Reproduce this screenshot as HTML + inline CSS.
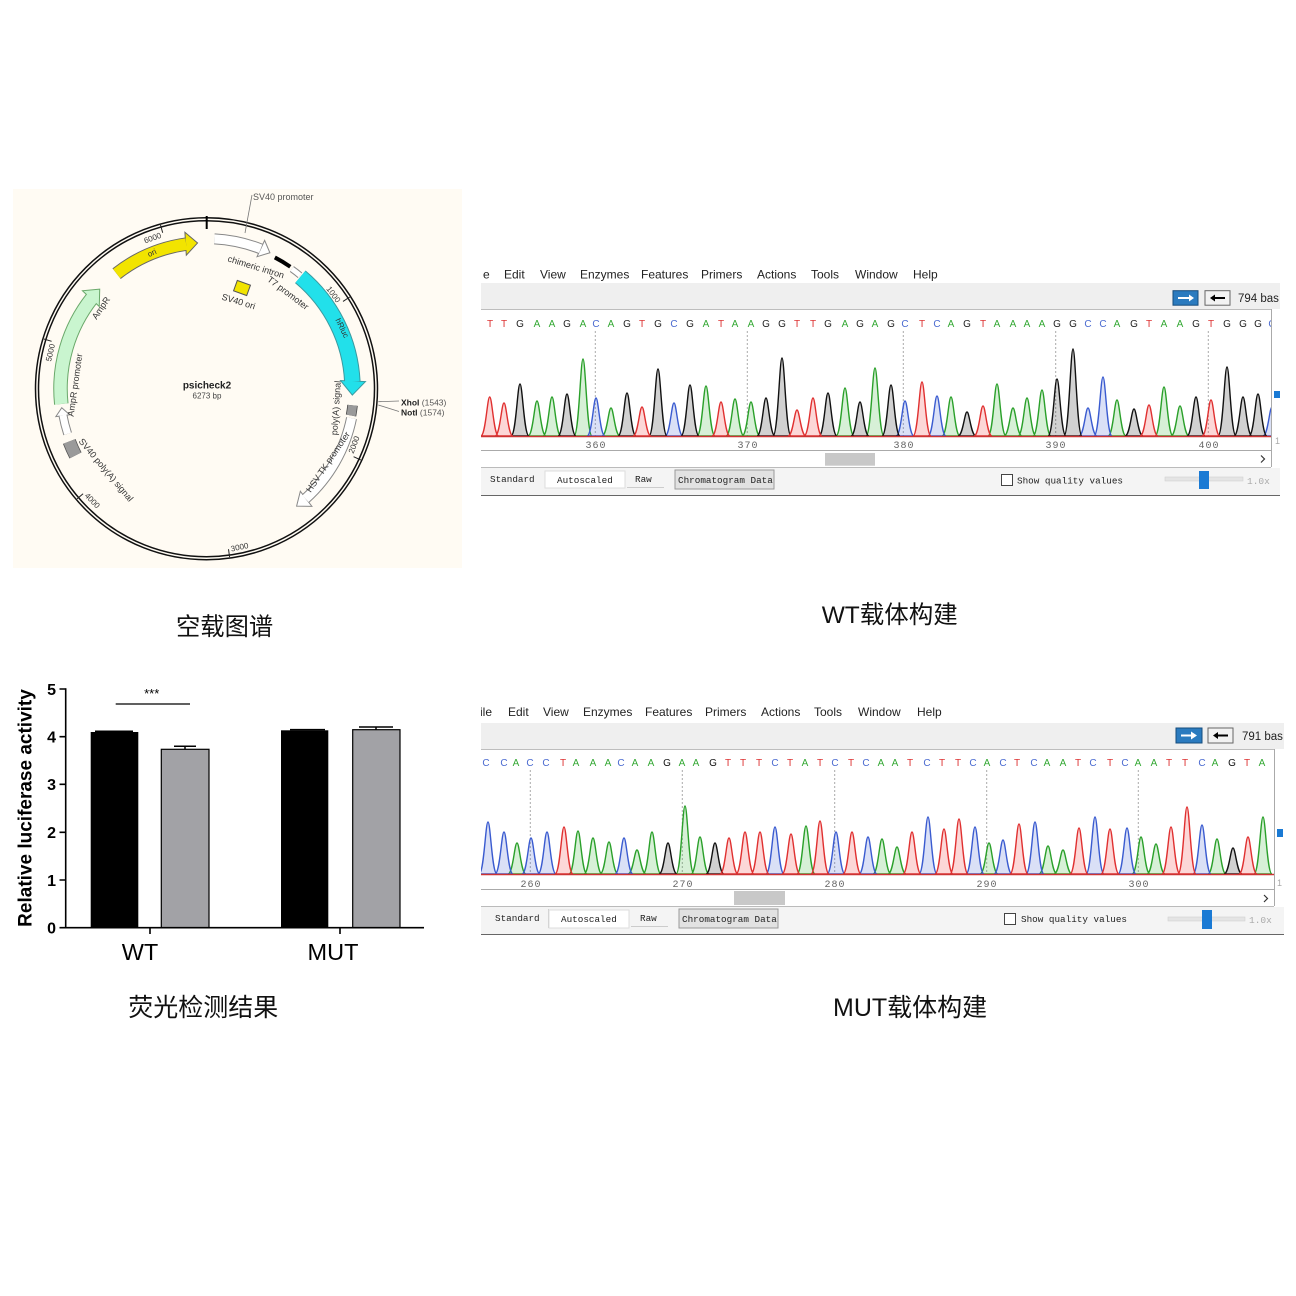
<!DOCTYPE html>
<html><head><meta charset="utf-8"><style>
html,body{margin:0;padding:0;background:#fff;}
svg{display:block;}
text{font-family:"Liberation Sans","Noto Sans CJK SC",sans-serif;}
.m text, text.m{font-family:"Liberation Mono",monospace;}
</style></head><body>
<svg width="1296" height="1296" viewBox="0 0 1296 1296" xmlns="http://www.w3.org/2000/svg">
<defs>
<clipPath id="cw"><rect x="481" y="309" width="790" height="132"/></clipPath>
<clipPath id="cm"><rect x="481" y="749" width="793" height="131"/></clipPath>
<clipPath id="rw"><rect x="481" y="260" width="799" height="240"/></clipPath>
<clipPath id="rm"><rect x="481" y="700" width="803" height="240"/></clipPath>
</defs>
<rect width="1296" height="1296" fill="#fff"/>

<!-- ================= PLASMID MAP ================= -->
<rect x="13" y="189" width="449" height="379" fill="#fffbf3"/>
<g fill="none">
<circle cx="206.5" cy="388.7" r="171" stroke="#111" stroke-width="1.5"/>
<circle cx="206.5" cy="388.7" r="168" stroke="#111" stroke-width="1.5"/>
</g>
<line x1="206.7" y1="216" x2="206.7" y2="229" stroke="#000" stroke-width="2"/>
<path d="M343,301.4L349.7,297.1M353.6,456.7L360.8,460M228.5,549.2L229.6,557.1M83.1,493.7L77,498.9M51.6,341.3L43.9,339M162.7,232.7L160.5,225" stroke="#222" stroke-width="1" fill="none"/>
<g font-size="8" fill="#333" text-anchor="middle" dominant-baseline="central">
<text transform="translate(333.3,294.5) rotate(53.4)">1000</text>
<text transform="translate(354.2,444.8) rotate(-69.2)">2000</text>
<text transform="translate(239.6,547.3) rotate(-11.8)">3000</text>
<text transform="translate(92.2,500.7) rotate(45.6)">4000</text>
<text transform="translate(50.6,352.7) rotate(-77)">5000</text>
<text transform="translate(152.6,238.1) rotate(-19.7)">6000</text>
</g>

<!-- ori -->
<circle cx="206.5" cy="388.7" r="146" fill="none" stroke="#666" stroke-width="13.5" stroke-dasharray="76.4 2000" transform="rotate(-128 206.5 388.7)"/>
<polygon points="206.5,242.7 194.5,231.2 194.5,254.2" fill="#f2e400" stroke="#666" stroke-width="1" transform="rotate(-3.5 206.5 388.7)"/>
<circle cx="206.5" cy="388.7" r="146" fill="none" stroke="#f2e400" stroke-width="11.5" stroke-dasharray="76.4 2000" transform="rotate(-128 206.5 388.7)"/>
<!-- SV40 promoter -->
<circle cx="206.5" cy="388.7" r="150" fill="none" stroke="#888" stroke-width="11" stroke-dasharray="47.6 2000" transform="rotate(-87 206.5 388.7)"/>
<polygon points="206.5,238.7 196.5,229.7 196.5,247.7" fill="#fff" stroke="#888" stroke-width="1" transform="rotate(25 206.5 388.7)"/>
<circle cx="206.5" cy="388.7" r="150" fill="none" stroke="#fff" stroke-width="9" stroke-dasharray="47.6 2000" transform="rotate(-87 206.5 388.7)"/>
<!-- chimeric intron -->
<circle cx="206.5" cy="388.7" r="148" fill="none" stroke="#000" stroke-width="4" stroke-dasharray="18.1 2000" transform="rotate(-62.5 206.5 388.7)"/>
<!-- T7 -->
<circle cx="206.5" cy="388.7" r="147" fill="none" stroke="#888" stroke-width="7" stroke-dasharray="10.3 2000" transform="rotate(-54.5 206.5 388.7)"/>
<circle cx="206.5" cy="388.7" r="147" fill="none" stroke="#fff" stroke-width="5" stroke-dasharray="10.3 2000" transform="rotate(-54.5 206.5 388.7)"/>
<!-- hRluc -->
<circle cx="206.5" cy="388.7" r="146" fill="none" stroke="#3a9aa0" stroke-width="16.5" stroke-dasharray="120.3 2000" transform="rotate(-50 206.5 388.7)"/>
<polygon points="206.5,242.7 192.5,230.2 192.5,255.2" fill="#22e0ea" stroke="#3a9aa0" stroke-width="1" transform="rotate(92.5 206.5 388.7)"/>
<circle cx="206.5" cy="388.7" r="146" fill="none" stroke="#22e0ea" stroke-width="14.5" stroke-dasharray="120.3 2000" transform="rotate(-50 206.5 388.7)"/>
<!-- polyA box -->
<circle cx="206.5" cy="388.7" r="147" fill="none" stroke="#444" stroke-width="10.5" stroke-dasharray="10.3 2000" transform="rotate(6.5 206.5 388.7)"/>
<circle cx="206.5" cy="388.7" r="147" fill="none" stroke="#9a9a9a" stroke-width="9" stroke-dasharray="10.3 2000" transform="rotate(6.5 206.5 388.7)"/>
<!-- HSV TK -->
<circle cx="206.5" cy="388.7" r="148" fill="none" stroke="#888" stroke-width="11" stroke-dasharray="94.3 2000" transform="rotate(11.5 206.5 388.7)"/>
<polygon points="206.5,240.7 194.5,231.2 194.5,250.2" fill="#fff" stroke="#888" stroke-width="1" transform="rotate(142.5 206.5 388.7)"/>
<circle cx="206.5" cy="388.7" r="148" fill="none" stroke="#fff" stroke-width="9" stroke-dasharray="94.3 2000" transform="rotate(11.5 206.5 388.7)"/>
<!-- AmpR -->
<circle cx="206.5" cy="388.7" r="146" fill="none" stroke="#6aa86a" stroke-width="14.5" stroke-dasharray="113.1 2000" transform="rotate(-186 206.5 388.7)"/>
<polygon points="206.5,242.7 193.5,231.2 193.5,254.2" fill="#c9f5cf" stroke="#6aa86a" stroke-width="1" transform="rotate(-47 206.5 388.7)"/>
<circle cx="206.5" cy="388.7" r="146" fill="none" stroke="#c9f5cf" stroke-width="12.5" stroke-dasharray="113.1 2000" transform="rotate(-186 206.5 388.7)"/>
<!-- AmpR promoter -->
<circle cx="206.5" cy="388.7" r="146" fill="none" stroke="#888" stroke-width="9" stroke-dasharray="19.4 2000" transform="rotate(-198 206.5 388.7)"/>
<polygon points="206.5,242.7 198.5,235.7 198.5,249.7" fill="#fff" stroke="#888" stroke-width="1" transform="rotate(-97.5 206.5 388.7)"/>
<circle cx="206.5" cy="388.7" r="146" fill="none" stroke="#fff" stroke-width="7" stroke-dasharray="19.4 2000" transform="rotate(-198 206.5 388.7)"/>
<!-- SV40 polyA box -->
<circle cx="206.5" cy="388.7" r="147" fill="none" stroke="#555" stroke-width="13.5" stroke-dasharray="15.4 2000" transform="rotate(-207 206.5 388.7)"/>
<circle cx="206.5" cy="388.7" r="147" fill="none" stroke="#9a9a9a" stroke-width="12" stroke-dasharray="15.4 2000" transform="rotate(-207 206.5 388.7)"/>
<!-- SV40 ori box -->
<rect x="235" y="282.5" width="14" height="11" fill="#f2e400" stroke="#555" stroke-width="1" transform="rotate(20 242 288)"/>
<!-- label lines -->
<path d="M245,233L252,195M378.3,401.7L399,401M378.3,405L399,411.5" stroke="#777" stroke-width="0.8" fill="none"/>
<g font-size="9" fill="#333" text-anchor="middle" dominant-baseline="central">
<text transform="translate(152,253) rotate(-24)" font-size="8">ori</text>
<text transform="translate(256,267) rotate(17)">chimeric intron</text>
<text transform="translate(288,293) rotate(37)">T7 promoter</text>
<text transform="translate(238.5,301.5) rotate(17)">SV40 ori</text>
<text transform="translate(101,308) rotate(-56)">AmpR</text>
<text transform="translate(342,328) rotate(64)" font-size="8">hRluc</text>
<text transform="translate(75,385) rotate(-82)">AmpR promoter</text>
<text transform="translate(336,408) rotate(-86)">poly(A) signal</text>
<text transform="translate(328,462) rotate(-56)">HSV TK promoter</text>
<text transform="translate(106,470) rotate(50)">SV40 poly(A) signal</text>
<text x="207" y="386" font-size="10" font-weight="bold" fill="#222">psicheck2</text>
<text x="207" y="396" font-size="8" fill="#444">6273 bp</text>
</g>
<text x="253" y="197" font-size="9" fill="#555" dominant-baseline="central">SV40 promoter</text>
<text x="401" y="402.3" font-size="8.5" fill="#222" dominant-baseline="central"><tspan font-weight="bold">XhoI</tspan> <tspan fill="#555">(1543)</tspan></text>
<text x="401" y="412.3" font-size="8.5" fill="#222" dominant-baseline="central"><tspan font-weight="bold">NotI</tspan> <tspan fill="#555">(1574)</tspan></text>

<text x="176" y="635" font-size="24.3" fill="#111">空载图谱</text>

<!-- ================= WT PANEL ================= -->
<g clip-path="url(#rw)">
<rect x="481" y="262" width="799" height="21" fill="#fff"/>
<g font-size="12" fill="#222">
<text x="483" y="278.5">e</text><text x="504" y="278.5">Edit</text><text x="540" y="278.5">View</text><text x="580" y="278.5">Enzymes</text><text x="641" y="278.5">Features</text><text x="701" y="278.5">Primers</text><text x="757" y="278.5">Actions</text><text x="811" y="278.5">Tools</text><text x="855" y="278.5">Window</text><text x="913" y="278.5">Help</text>
</g>
<rect x="481" y="283" width="799" height="26" fill="#efefef"/>
<line x1="481" y1="309.5" x2="1271" y2="309.5" stroke="#bdbdbd"/>
<rect x="1173" y="290.7" width="25" height="14.5" fill="#2b7bbf" stroke="#164d7e"/>
<path d="M1178,298H1190" stroke="#fff" stroke-width="2"/><polygon points="1194,298 1189,294.5 1189,301.5" fill="#fff"/>
<rect x="1205" y="290.7" width="25" height="14.5" fill="#f2f2f2" stroke="#666"/>
<path d="M1214,298H1225" stroke="#000" stroke-width="2"/><polygon points="1210,298 1215,294.5 1215,301.5" fill="#000"/>
<text x="1238" y="302" font-size="11.5" fill="#222">794 bas</text>
<!-- sequence -->
<g font-size="10" text-anchor="middle">
<g fill="#dd3333"><text x="490" y="327">T</text><text x="504" y="327">T</text><text x="642" y="327">T</text><text x="721" y="327">T</text><text x="797" y="327">T</text><text x="813" y="327">T</text><text x="922" y="327">T</text><text x="983" y="327">T</text><text x="1149" y="327">T</text><text x="1211" y="327">T</text></g>
<g fill="#33a833"><text x="537" y="327">A</text><text x="552" y="327">A</text><text x="583" y="327">A</text><text x="611" y="327">A</text><text x="706" y="327">A</text><text x="735" y="327">A</text><text x="751" y="327">A</text><text x="845" y="327">A</text><text x="875" y="327">A</text><text x="951" y="327">A</text><text x="997" y="327">A</text><text x="1013" y="327">A</text><text x="1027" y="327">A</text><text x="1042" y="327">A</text><text x="1117" y="327">A</text><text x="1164" y="327">A</text><text x="1180" y="327">A</text></g>
<g fill="#4a6ad0"><text x="596" y="327">C</text><text x="674" y="327">C</text><text x="905" y="327">C</text><text x="937" y="327">C</text><text x="1088" y="327">C</text><text x="1103" y="327">C</text><text x="1272" y="327">C</text></g>
<g fill="#222"><text x="520" y="327">G</text><text x="567" y="327">G</text><text x="627" y="327">G</text><text x="658" y="327">G</text><text x="690" y="327">G</text><text x="766" y="327">G</text><text x="782" y="327">G</text><text x="828" y="327">G</text><text x="860" y="327">G</text><text x="891" y="327">G</text><text x="967" y="327">G</text><text x="1057" y="327">G</text><text x="1073" y="327">G</text><text x="1134" y="327">G</text><text x="1196" y="327">G</text><text x="1227" y="327">G</text><text x="1243" y="327">G</text><text x="1258" y="327">G</text></g>
</g>
<rect x="1271" y="309" width="9" height="158" fill="#fff"/>
<path d="M595.3,331V436M747.3,331V436M903.3,331V436M1055.7,331V436M1208.3,331V436" stroke="#aaa" stroke-dasharray="2 2"/>
<g clip-path="url(#cw)" stroke-width="1.4" fill-opacity="0.18">
<path fill="#22aa22" stroke="#2aa02a" d="M528,436c5,0 6.5,-35 9,-35s4,35 9,35zM543,436c5,0 6.5,-39 9,-39s4,39 9,39zM574,436c5,0 6.5,-77 9,-77s4,77 9,77zM602,436c5,0 6.5,-28 9,-28s4,28 9,28zM697,436c5,0 6.5,-50 9,-50s4,50 9,50zM726,436c5,0 6.5,-37 9,-37s4,37 9,37zM742,436c5,0 6.5,-34 9,-34s4,34 9,34zM836,436c5,0 6.5,-48 9,-48s4,48 9,48zM866,436c5,0 6.5,-68 9,-68s4,68 9,68zM942,436c5,0 6.5,-39 9,-39s4,39 9,39zM988,436c5,0 6.5,-52 9,-52s4,52 9,52zM1004,436c5,0 6.5,-28 9,-28s4,28 9,28zM1018,436c5,0 6.5,-38 9,-38s4,38 9,38zM1033,436c5,0 6.5,-46 9,-46s4,46 9,46zM1108,436c5,0 6.5,-36 9,-36s4,36 9,36zM1155,436c5,0 6.5,-49 9,-49s4,49 9,49zM1171,436c5,0 6.5,-30 9,-30s4,30 9,30z"/>
<path fill="#3355cc" stroke="#3a5bd0" d="M587,436c5,0 6.5,-38 9,-38s4,38 9,38zM665,436c5,0 6.5,-33 9,-33s4,33 9,33zM896,436c5,0 6.5,-35 9,-35s4,35 9,35zM928,436c5,0 6.5,-40 9,-40s4,40 9,40zM1079,436c5,0 6.5,-28 9,-28s4,28 9,28zM1094,436c5,0 6.5,-59 9,-59s4,59 9,59zM1263,436c5,0 6.5,-29 9,-29s4,29 9,29z"/>
<path fill="#000" stroke="#111" d="M511,436c5,0 6.5,-52 9,-52s4,52 9,52zM558,436c5,0 6.5,-42 9,-42s4,42 9,42zM618,436c5,0 6.5,-43 9,-43s4,43 9,43zM649,436c5,0 6.5,-67 9,-67s4,67 9,67zM681,436c5,0 6.5,-51 9,-51s4,51 9,51zM757,436c5,0 6.5,-38 9,-38s4,38 9,38zM773,436c5,0 6.5,-78 9,-78s4,78 9,78zM819,436c5,0 6.5,-43 9,-43s4,43 9,43zM851,436c5,0 6.5,-34 9,-34s4,34 9,34zM882,436c5,0 6.5,-51 9,-51s4,51 9,51zM958,436c5,0 6.5,-24 9,-24s4,24 9,24zM1048,436c5,0 6.5,-57 9,-57s4,57 9,57zM1064,436c5,0 6.5,-87 9,-87s4,87 9,87zM1125,436c5,0 6.5,-27 9,-27s4,27 9,27zM1187,436c5,0 6.5,-39 9,-39s4,39 9,39zM1218,436c5,0 6.5,-69 9,-69s4,69 9,69zM1234,436c5,0 6.5,-39 9,-39s4,39 9,39zM1249,436c5,0 6.5,-42 9,-42s4,42 9,42z"/>
<path fill="#ee2222" stroke="#e03030" d="M480.7,436c5,0 6.5,-39 9,-39s4,39 9,39zM495,436c5,0 6.5,-33 9,-33s4,33 9,33zM633,436c5,0 6.5,-29 9,-29s4,29 9,29zM712,436c5,0 6.5,-34 9,-34s4,34 9,34zM788,436c5,0 6.5,-26 9,-26s4,26 9,26zM804,436c5,0 6.5,-38 9,-38s4,38 9,38zM913,436c5,0 6.5,-54 9,-54s4,54 9,54zM974,436c5,0 6.5,-30 9,-30s4,30 9,30zM1140,436c5,0 6.5,-31 9,-31s4,31 9,31zM1202,436c5,0 6.5,-36 9,-36s4,36 9,36z"/>
<line x1="481" y1="436.5" x2="1271" y2="436.5" stroke="#c33" stroke-width="1.5"/>
</g>
<g class="m" font-size="10" fill="#666" text-anchor="middle" letter-spacing="1">
<text x="596" y="448">360</text><text x="748" y="448">370</text><text x="904" y="448">380</text><text x="1056" y="448">390</text><text x="1209" y="448">400</text>
</g>
<line x1="481" y1="450.5" x2="1271" y2="450.5" stroke="#aaa"/>
<rect x="825" y="453" width="50" height="12.7" fill="#c8c8c8"/>
<path d="M1261,455.5l3.5,3.5l-3.5,3.5" stroke="#333" stroke-width="1.2" fill="none"/>
<line x1="481" y1="467.5" x2="1271" y2="467.5" stroke="#bbb"/>
<line x1="1271.5" y1="309" x2="1271.5" y2="467" stroke="#aaa"/>
<rect x="1274" y="391" width="6" height="7" fill="#1a7ad4"/>
<text x="1275" y="444" font-size="9" fill="#aaa">1</text>
<rect x="481" y="468" width="799" height="27" fill="#f4f4f4"/>
<rect x="545" y="471" width="80" height="17" fill="#fff" stroke="#ddd"/>
<rect x="675" y="470" width="99" height="19" fill="#e2e2e2" stroke="#9a9a9a"/>
<line x1="627" y1="487.5" x2="664" y2="487.5" stroke="#ccc"/>
<g class="m" font-size="9.3" fill="#222">
<text x="490" y="482">Standard</text><text x="557" y="483">Autoscaled</text><text x="635" y="482">Raw</text><text x="678" y="483">Chromatogram Data</text>
<text x="1017" y="483.5">Show quality values</text>
</g>
<rect x="1001.5" y="474.5" width="11" height="11" fill="#fff" stroke="#444"/>
<rect x="1165" y="477" width="78" height="4" fill="#e4e4e4" stroke="#d0d0d0" stroke-width="0.6"/>
<rect x="1199" y="471" width="10" height="18" fill="#1a7ad4"/>
<text x="1247" y="484" class="m" font-size="9.5" fill="#aaa">1.0x</text>
<line x1="481" y1="495.5" x2="1280" y2="495.5" stroke="#666"/>
</g>
<text x="821.7" y="623" font-size="24.5" fill="#111">WT载体构建</text>

<!-- ================= MUT PANEL ================= -->
<g clip-path="url(#rm)">
<rect x="481" y="701" width="803" height="22" fill="#fff"/>
<g font-size="12" fill="#222">
<text x="480" y="716">ile</text><text x="508" y="716">Edit</text><text x="543" y="716">View</text><text x="583" y="716">Enzymes</text><text x="645" y="716">Features</text><text x="705" y="716">Primers</text><text x="761" y="716">Actions</text><text x="814" y="716">Tools</text><text x="858" y="716">Window</text><text x="917" y="716">Help</text>
</g>
<rect x="481" y="723" width="803" height="26" fill="#efefef"/>
<line x1="481" y1="749.5" x2="1274" y2="749.5" stroke="#bdbdbd"/>
<rect x="1176" y="728" width="26" height="15" fill="#2b7bbf" stroke="#164d7e"/>
<path d="M1181,735.5H1192" stroke="#fff" stroke-width="2"/><polygon points="1197,735.5 1191,731.5 1191,739.5" fill="#fff"/>
<rect x="1208" y="728" width="25" height="15" fill="#f2f2f2" stroke="#666"/>
<path d="M1217,735.5H1228" stroke="#000" stroke-width="2"/><polygon points="1213,735.5 1218,732 1218,739" fill="#000"/>
<text x="1242" y="740" font-size="11.5" fill="#222">791 bas</text>
<g font-size="10" text-anchor="middle">
<g fill="#4a6ad0"><text x="486" y="766">C</text><text x="504" y="766">C</text><text x="530" y="766">C</text><text x="546" y="766">C</text><text x="621" y="766">C</text><text x="775" y="766">C</text><text x="835" y="766">C</text><text x="866" y="766">C</text><text x="927" y="766">C</text><text x="973" y="766">C</text><text x="1003" y="766">C</text><text x="1034" y="766">C</text><text x="1093" y="766">C</text><text x="1125" y="766">C</text><text x="1202" y="766">C</text></g>
<g fill="#33a833"><text x="516" y="766">A</text><text x="576" y="766">A</text><text x="593" y="766">A</text><text x="608" y="766">A</text><text x="635" y="766">A</text><text x="651" y="766">A</text><text x="682" y="766">A</text><text x="696" y="766">A</text><text x="805" y="766">A</text><text x="881" y="766">A</text><text x="895" y="766">A</text><text x="987" y="766">A</text><text x="1047" y="766">A</text><text x="1063" y="766">A</text><text x="1138" y="766">A</text><text x="1154" y="766">A</text><text x="1215" y="766">A</text><text x="1262" y="766">A</text></g>
<g fill="#dd3333"><text x="563" y="766">T</text><text x="728" y="766">T</text><text x="743" y="766">T</text><text x="759" y="766">T</text><text x="790" y="766">T</text><text x="820" y="766">T</text><text x="851" y="766">T</text><text x="910" y="766">T</text><text x="942" y="766">T</text><text x="958" y="766">T</text><text x="1017" y="766">T</text><text x="1078" y="766">T</text><text x="1110" y="766">T</text><text x="1169" y="766">T</text><text x="1185" y="766">T</text><text x="1247" y="766">T</text></g>
<g fill="#111"><text x="667" y="766">G</text><text x="713" y="766">G</text><text x="1232" y="766">G</text></g>
</g>
<rect x="1274" y="749" width="10" height="157" fill="#fff"/>
<path d="M530.3,770V874M682.3,770V874M834.7,770V874M986.7,770V874M1138.3,770V874" stroke="#aaa" stroke-dasharray="2 2"/>
<g clip-path="url(#cm)" stroke-width="1.4" fill-opacity="0.18">
<path fill="#22aa22" stroke="#2aa02a" d="M508,874c5,0 6.5,-31 9,-31s4,31 9,31zM569,874c5,0 6.5,-43 9,-43s4,43 9,43zM584,874c5,0 6.5,-36 9,-36s4,36 9,36zM600,874c5,0 6.5,-32 9,-32s4,32 9,32zM628,874c5,0 6.5,-24 9,-24s4,24 9,24zM643,874c5,0 6.5,-42 9,-42s4,42 9,42zM676,874c5,0 6.5,-68 9,-68s4,68 9,68zM691,874c5,0 6.5,-37 9,-37s4,37 9,37zM797,874c5,0 6.5,-48 9,-48s4,48 9,48zM873,874c5,0 6.5,-35 9,-35s4,35 9,35zM888,874c5,0 6.5,-27 9,-27s4,27 9,27zM980,874c5,0 6.5,-31 9,-31s4,31 9,31zM1039,874c5,0 6.5,-28 9,-28s4,28 9,28zM1054,874c5,0 6.5,-24 9,-24s4,24 9,24zM1132,874c5,0 6.5,-37 9,-37s4,37 9,37zM1147,874c5,0 6.5,-30 9,-30s4,30 9,30zM1208,874c5,0 6.5,-35 9,-35s4,35 9,35zM1254,874c5,0 6.5,-57 9,-57s4,57 9,57z"/>
<path fill="#3355cc" stroke="#3a5bd0" d="M479,874c5,0 6.5,-52 9,-52s4,52 9,52zM495,874c5,0 6.5,-42 9,-42s4,42 9,42zM522,874c5,0 6.5,-36 9,-36s4,36 9,36zM538,874c5,0 6.5,-42 9,-42s4,42 9,42zM615,874c5,0 6.5,-36 9,-36s4,36 9,36zM766,874c5,0 6.5,-47 9,-47s4,47 9,47zM827,874c5,0 6.5,-42 9,-42s4,42 9,42zM859,874c5,0 6.5,-37 9,-37s4,37 9,37zM919,874c5,0 6.5,-57 9,-57s4,57 9,57zM966,874c5,0 6.5,-47 9,-47s4,47 9,47zM994,874c5,0 6.5,-34 9,-34s4,34 9,34zM1026,874c5,0 6.5,-52 9,-52s4,52 9,52zM1086,874c5,0 6.5,-57 9,-57s4,57 9,57zM1118,874c5,0 6.5,-46 9,-46s4,46 9,46zM1193,874c5,0 6.5,-49 9,-49s4,49 9,49z"/>
<path fill="#000" stroke="#111" d="M659,874c5,0 6.5,-31 9,-31s4,31 9,31zM706,874c5,0 6.5,-31 9,-31s4,31 9,31zM1224,874c5,0 6.5,-26 9,-26s4,26 9,26z"/>
<path fill="#ee2222" stroke="#e03030" d="M555,874c5,0 6.5,-47 9,-47s4,47 9,47zM720,874c5,0 6.5,-36 9,-36s4,36 9,36zM736,874c5,0 6.5,-42 9,-42s4,42 9,42zM751,874c5,0 6.5,-42 9,-42s4,42 9,42zM782,874c5,0 6.5,-40 9,-40s4,40 9,40zM811,874c5,0 6.5,-53 9,-53s4,53 9,53zM843,874c5,0 6.5,-42 9,-42s4,42 9,42zM903,874c5,0 6.5,-42 9,-42s4,42 9,42zM935,874c5,0 6.5,-45 9,-45s4,45 9,45zM950,874c5,0 6.5,-55 9,-55s4,55 9,55zM1010,874c5,0 6.5,-50 9,-50s4,50 9,50zM1070,874c5,0 6.5,-46 9,-46s4,46 9,46zM1101,874c5,0 6.5,-45 9,-45s4,45 9,45zM1162,874c5,0 6.5,-47 9,-47s4,47 9,47zM1178,874c5,0 6.5,-67 9,-67s4,67 9,67zM1239,874c5,0 6.5,-37 9,-37s4,37 9,37z"/>
<line x1="481" y1="874.5" x2="1274" y2="874.5" stroke="#c33" stroke-width="1.5"/>
</g>
<g class="m" font-size="10" fill="#666" text-anchor="middle" letter-spacing="1">
<text x="531" y="887">260</text><text x="683" y="887">270</text><text x="835" y="887">280</text><text x="987" y="887">290</text><text x="1139" y="887">300</text>
</g>
<line x1="481" y1="889.5" x2="1274" y2="889.5" stroke="#aaa"/>
<rect x="734" y="891" width="51" height="14" fill="#c8c8c8"/>
<path d="M1264,895l3.5,3.5l-3.5,3.5" stroke="#333" stroke-width="1.2" fill="none"/>
<line x1="481" y1="906.5" x2="1274" y2="906.5" stroke="#bbb"/>
<line x1="1274.5" y1="749" x2="1274.5" y2="906" stroke="#aaa"/>
<rect x="1277" y="829" width="6" height="8" fill="#1a7ad4"/>
<text x="1277" y="886" font-size="9" fill="#aaa">1</text>
<rect x="481" y="907" width="803" height="27" fill="#f4f4f4"/>
<line x1="548.5" y1="909" x2="548.5" y2="928" stroke="#ccc"/>
<rect x="549" y="910" width="80" height="18" fill="#fff" stroke="#ddd"/>
<rect x="679" y="909" width="99" height="19" fill="#e2e2e2" stroke="#9a9a9a"/>
<line x1="631" y1="926.5" x2="668" y2="926.5" stroke="#ccc"/>
<g class="m" font-size="9.3" fill="#222">
<text x="495" y="921">Standard</text><text x="561" y="922">Autoscaled</text><text x="640" y="921">Raw</text><text x="682" y="922">Chromatogram Data</text>
<text x="1021" y="922">Show quality values</text>
</g>
<rect x="1004.5" y="913.5" width="11" height="11" fill="#fff" stroke="#444"/>
<rect x="1168" y="917" width="77" height="4" fill="#e4e4e4" stroke="#d0d0d0" stroke-width="0.6"/>
<rect x="1202" y="910" width="10" height="19" fill="#1a7ad4"/>
<text x="1249" y="923" class="m" font-size="9.5" fill="#aaa">1.0x</text>
<line x1="481" y1="934.5" x2="1284" y2="934.5" stroke="#666"/>
</g>
<text x="833" y="1016" font-size="25" fill="#111">MUT载体构建</text>

<!-- ================= BAR CHART ================= -->
<rect x="90.7" y="732" width="47.6" height="195.7" fill="#000"/>
<rect x="161.3" y="749.3" width="47.7" height="178.4" fill="#a2a2a6" stroke="#000" stroke-width="1.2"/>
<rect x="281" y="730.3" width="47.3" height="197.4" fill="#000"/>
<rect x="352.7" y="729.7" width="47.3" height="198" fill="#a2a2a6" stroke="#000" stroke-width="1.2"/>
<path d="M185,749V746.3M174,746.3H196M376,729.7V727M359,727H393M95,731.3H133M290,729.6H325" stroke="#000" stroke-width="1.5" fill="none"/>
<path d="M65.7,688.2V928.5M65,927.7H424" stroke="#000" stroke-width="1.6" fill="none"/>
<path d="M59.5,689H65.7M59.5,736.7H65.7M59.5,784.3H65.7M59.5,832.3H65.7M59.5,880H65.7M59.5,927.7H65.7M150,927.7V934M340,927.7V934" stroke="#000" stroke-width="1.6" fill="none"/>
<g font-size="16" font-weight="bold" fill="#000" text-anchor="end">
<text x="56" y="694.8">5</text><text x="56" y="742.5">4</text><text x="56" y="790.1">3</text><text x="56" y="838.1">2</text><text x="56" y="885.8">1</text><text x="56" y="933.5">0</text>
</g>
<text transform="translate(31.7,808) rotate(-90)" font-size="19" font-weight="bold" text-anchor="middle" fill="#000">Relative luciferase activity</text>
<line x1="115.7" y1="704" x2="190" y2="704" stroke="#000" stroke-width="1.2"/>
<text x="151.7" y="698" font-size="13" text-anchor="middle" fill="#000">***</text>
<text x="140" y="960" font-size="23.5" text-anchor="middle" fill="#000">WT</text>
<text x="333" y="960" font-size="23.5" text-anchor="middle" fill="#000">MUT</text>
<text x="128.3" y="1016" font-size="25" fill="#111">荧光检测结果</text>
</svg>
</body></html>
